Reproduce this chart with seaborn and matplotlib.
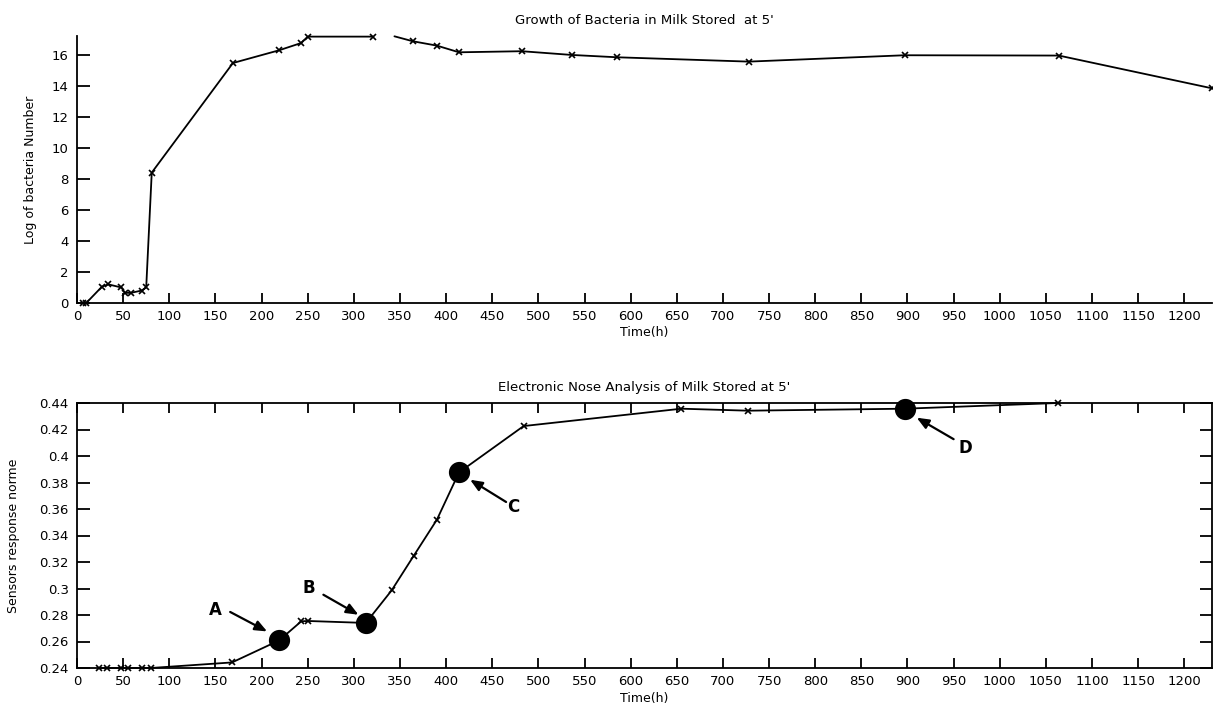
import numpy as np
import pandas as pd
import matplotlib
matplotlib.use("Agg")
import matplotlib.pyplot as plt
from matplotlib.ticker import FuncFormatter
import seaborn as sns

# ---------------- data ----------------
# Top panel: growth of bacteria (log count) vs time (h); segment marks the break in the curve
bact_time = [7, 10, 27, 34, 48, 52, 58, 70, 75, 81, 169, 219, 243, 250, 321,
             344, 364, 390, 414, 482, 536, 585, 728, 897, 1064, 1230]
bact_log = [0.0, 0.0, 1.05, 1.2, 1.0, 0.66, 0.65, 0.8, 1.0, 8.4, 15.46, 16.28, 16.75, 17.16, 17.16,
            17.18, 16.86, 16.58, 16.15, 16.22, 15.98, 15.83, 15.55, 15.96, 15.94, 13.83]
bact_segment = [1] * 15 + [2] * 11

# Bottom panel: electronic nose sensor response vs time (h)
nose_time = [24, 33, 48, 55, 70, 80, 168, 219, 243, 250, 313, 341, 365, 390, 414,
             484, 655, 727, 897, 1063]
nose_resp = [0.24, 0.24, 0.24, 0.24, 0.24, 0.24, 0.2442, 0.2608, 0.2752, 0.2755, 0.274,
             0.2986, 0.3248, 0.3519, 0.3876, 0.4226, 0.4357, 0.4342, 0.4357, 0.44]

# Highlighted stages
stage_labels = ["A", "B", "C", "D"]
stage_time = [219, 313, 414, 897]
stage_resp = [0.2608, 0.274, 0.3876, 0.4357]
# label text positions and arrow tails (data coords)
stage_text_time = [150, 251, 473, 963]
stage_text_resp = [0.284, 0.3004, 0.3612, 0.406]
arrow_tail_time = [166, 267, 465, 950]
arrow_tail_resp = [0.2823, 0.2953, 0.3653, 0.4127]
arrow_tip_time = [206, 305, 426, 910]
arrow_tip_resp = [0.2676, 0.2802, 0.3821, 0.4289]

top_title = "Growth of Bacteria in Milk Stored  at 5'"
bottom_title = "Electronic Nose Analysis of Milk Stored at 5'"
x_label = "Time(h)"
top_ylabel = "Log of bacteria Number"
bottom_ylabel = "Sensors response norme"
x_ticks = list(range(0, 1201, 50))
top_yticks = list(range(0, 17, 2))
bottom_yticks = [0.24, 0.26, 0.28, 0.30, 0.32, 0.34, 0.36, 0.38, 0.40, 0.42, 0.44]

# ---------------- style ----------------
sns.set_style("white")
plt.rcParams["font.family"] = ["DejaVu Sans"]
plt.rcParams["text.color"] = "black"
plt.rcParams["axes.labelcolor"] = "black"
plt.rcParams["xtick.color"] = "black"
plt.rcParams["ytick.color"] = "black"

W, H = 1213, 709
fig = plt.figure(figsize=(W / 100, H / 100), dpi=100)

def axrect(left, top, right, bottom):
    return [left / W, 1 - bottom / H, (right - left) / W, (bottom - top) / H]

ax1 = fig.add_axes(axrect(77, 36, 1212, 303))
ax2 = fig.add_axes(axrect(77, 403, 1212, 668))

df_top = pd.DataFrame({"time": bact_time, "log": bact_log, "seg": bact_segment})
df_bot = pd.DataFrame({"time": nose_time, "resp": nose_resp})
df_stage = pd.DataFrame({"time": stage_time, "resp": stage_resp, "label": stage_labels})

# ---- top panel ----
sns.lineplot(data=df_top, x="time", y="log", units="seg", estimator=None, ax=ax1,
             color="black", lw=1.3, marker="x", markersize=5, markeredgewidth=1.2,
             markeredgecolor="black")
# the first point after the break has no marker in the original
if len(ax1.lines) >= 2:
    n2 = len(ax1.lines[1].get_xdata())
    ax1.lines[1].set_markevery(list(range(1, n2)))
ax1.set_xlim(0, 1230)
ax1.set_ylim(0, 17.2)
ax1.set_xticks(x_ticks)
ax1.set_yticks(top_yticks)
for s in ["top", "right"]:
    ax1.spines[s].set_visible(False)
for s in ["left", "bottom"]:
    ax1.spines[s].set_linewidth(1.3)
    ax1.spines[s].set_color("black")
ax1.tick_params(axis="x", direction="in", length=7, width=1.3, pad=5, labelsize=9.5, bottom=True)
ax1.tick_params(axis="y", direction="in", length=9, width=1.3, pad=6, labelsize=9.5, left=True)
ax1.set_xlabel(x_label, fontsize=9)
ax1.set_ylabel(top_ylabel, fontsize=9)
ax1.xaxis.set_label_coords(0.5, -0.085)
ax1.yaxis.set_label_coords(-0.035, 0.5)
ax1.set_title(top_title, fontsize=9.5, pad=9)
for l in ax1.lines:
    l.set_clip_on(False)

# ---- bottom panel ----
sns.lineplot(data=df_bot, x="time", y="resp", ax=ax2, color="black", lw=1.3,
             marker="x", markersize=5, markeredgewidth=1.2, markeredgecolor="black")
sns.scatterplot(data=df_stage, x="time", y="resp", ax=ax2, color="black", s=200,
                edgecolor="black", zorder=5, clip_on=False)
ax2.set_xlim(0, 1230)
ax2.set_ylim(0.24, 0.44)
ax2.set_xticks(x_ticks)
ax2.set_yticks(bottom_yticks)
ax2.yaxis.set_major_formatter(FuncFormatter(lambda v, p: f"{v:g}"))
for s in ax2.spines.values():
    s.set_linewidth(1.3)
    s.set_color("black")
ax2.tick_params(axis="x", direction="in", length=7, width=1.3, pad=5, labelsize=9.5,
                bottom=True, top=True)
ax2.tick_params(axis="y", direction="in", length=9, width=1.3, pad=6, labelsize=9.5,
                left=True, right=True)
ax2.set_xlabel(x_label, fontsize=9)
ax2.set_ylabel(bottom_ylabel, fontsize=9)
ax2.xaxis.set_label_coords(0.5, -0.09)
ax2.yaxis.set_label_coords(-0.05, 0.5)
ax2.set_title(bottom_title, fontsize=9.5, pad=9)
for l in ax2.lines:
    l.set_clip_on(False)

for lab, tx, ty, ax_, ay_, hx, hy in zip(stage_labels, stage_text_time, stage_text_resp,
                                          arrow_tail_time, arrow_tail_resp,
                                          arrow_tip_time, arrow_tip_resp):
    ax2.text(tx, ty, lab, fontsize=12, fontweight="bold", ha="center", va="center")
    ax2.annotate("", xy=(hx, hy), xytext=(ax_, ay_),
                 arrowprops=dict(arrowstyle="-|>,head_length=0.6,head_width=0.25",
                                 color="black", lw=1.6, shrinkA=0, shrinkB=0,
                                 mutation_scale=12))

fig.savefig("out.png", dpi=100)
